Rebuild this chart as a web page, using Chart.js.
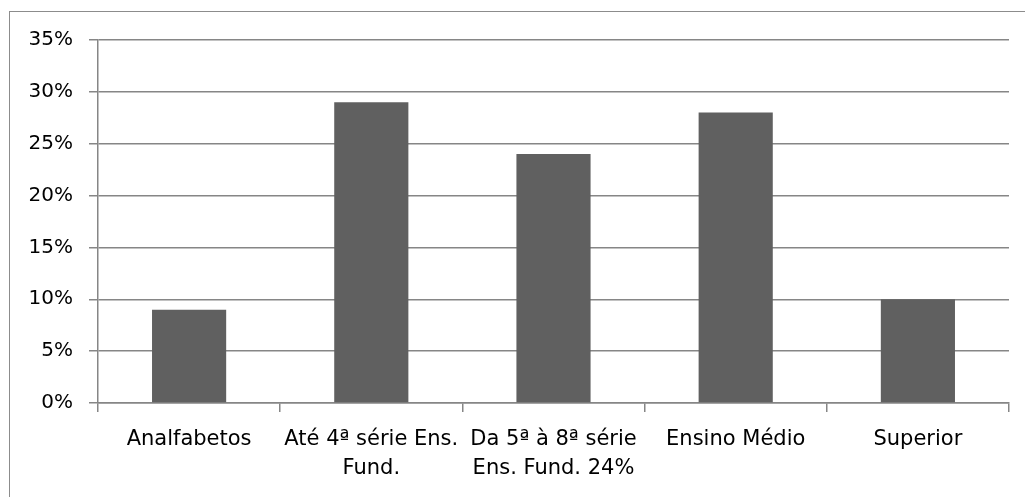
<!DOCTYPE html>
<html>
<head>
<meta charset="utf-8">
<script src="https://cdn.jsdelivr.net/npm/chart.js@4"></script>
<style>
  html, body { margin: 0; padding: 0; background: #ffffff; overflow: hidden; }
  #wrap { position: relative; width: 1025px; height: 497px; }
  #frame { position: absolute; left: 9px; top: 11px; width: 2000px; height: 2000px;
           border-top: 1px solid #8c8c8c; border-left: 1px solid #8c8c8c; pointer-events: none; }
  canvas { position: absolute; left: 0; top: 0; }
</style>
</head>
<body>
<div id="wrap">
  <div id="frame"></div>
  <canvas id="c" width="1025" height="497"></canvas>
</div>
<script>
const categories = [
  'Analfabetos',
  ['Até 4ª série Ens.', 'Fund.'],
  ['Da 5ª à 8ª série', 'Ens. Fund. 24%'],
  'Ensino Médio',
  'Superior'
];
const values = [0.09, 0.29, 0.24, 0.28, 0.10];
const yTicks = [0, 0.05, 0.10, 0.15, 0.20, 0.25, 0.30, 0.35];

const FONT = "'DejaVu Sans', sans-serif";
const GRID = '#868686';

new Chart(document.getElementById('c'), {
  type: 'bar',
  data: {
    labels: categories,
    datasets: [{
      data: values,
      backgroundColor: '#606060',
      borderWidth: 0,
      categoryPercentage: 1,
      barPercentage: 0.407
    }]
  },
  options: {
    responsive: false,
    animation: false,
    devicePixelRatio: 1,
    layout: { padding: { top: 40, right: 16, left: 0, bottom: 0 } },
    plugins: { legend: { display: false }, tooltip: { enabled: false } },
    scales: {
      x: {
        offset: true,
        grid: { display: true, drawOnChartArea: false, drawTicks: true, tickLength: 9, color: GRID, lineWidth: 1.5, offset: true },
        border: { display: true, color: GRID, width: 1.5 },
        ticks: { color: '#000000', font: { family: FONT, size: 21, lineHeight: 1.38 }, padding: 13, maxRotation: 0, autoSkip: false },
        afterFit: (s) => { s.height = 94; }
      },
      y: {
        min: 0, max: 0.35,
        afterBuildTicks: (s) => { s.ticks = yTicks.map(v => ({ value: v })); },
        grid: { color: GRID, lineWidth: 1.5, tickLength: 9, drawTicks: true },
        border: { display: true, color: GRID, width: 1.5 },
        ticks: {
          color: '#000000', font: { family: FONT, size: 20 }, padding: 16,
          callback: (v) => Math.round(v * 100) + '%'
        },
        afterFit: (s) => { s.width = 98; }
      }
    }
  }
});
</script>
</body>
</html>
